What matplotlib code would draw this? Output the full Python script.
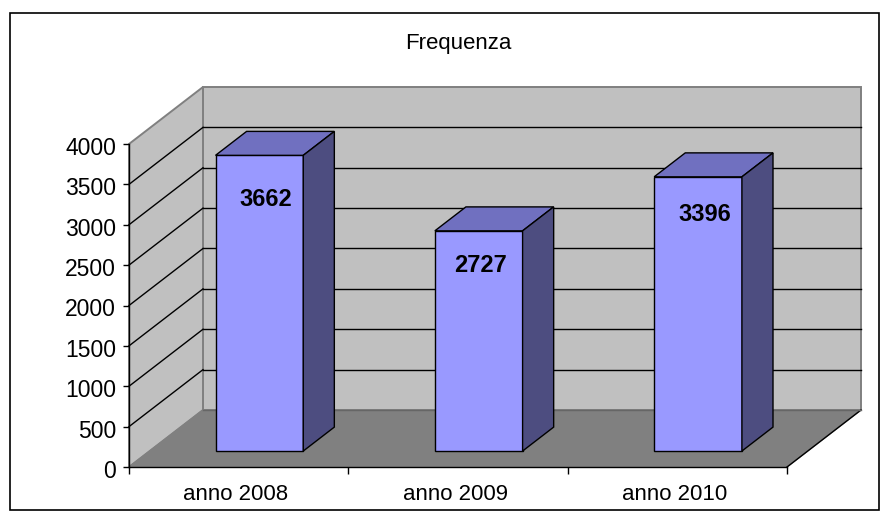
import matplotlib
matplotlib.use("Agg")
import matplotlib.pyplot as plt
from matplotlib.patches import Polygon, Rectangle
from matplotlib.transforms import ScaledTranslation

plt.rcParams['font.family'] = ['Liberation Sans', 'DejaVu Sans']

# dati del grafico
categorie = ["anno 2008", "anno 2009", "anno 2010"]
frequenza = [3662, 2727, 3396]
tacche_y = [0, 500, 1000, 1500, 2000, 2500, 3000, 3500, 4000]

W, H = 895, 520
X0, X1 = 129, 787      # piano frontale in pixel
Y0, Y1 = 467, 144
DX, DY = 74, 57        # profondita' in pixel

fig = plt.figure(figsize=(W / 100, H / 100), dpi=100)
fig.patch.set_facecolor("white")

# cornice esterna
fig.add_artist(Rectangle((10 / W, 1 - 510 / H), 869 / W, 497 / H, transform=fig.transFigure,
                         fc="white", ec="black", lw=1.2, zorder=-1))

ax = fig.add_axes([X0 / W, 1 - Y0 / H, (X1 - X0) / W, (Y0 - Y1) / H])
ax.set_xlim(0, 3)
ax.set_ylim(0, 4000)
ax.patch.set_visible(False)
for s in ax.spines.values():
    s.set_visible(False)

dx = DX * 3 / (X1 - X0)
dy = DY * 4000 / (Y0 - Y1)


def prof(x, y, f):
    # punto (x, y) spostato alla profondita' f
    return (x + dx * f, y + dy * f)


def poly(punti, fc, ec="black", lw=1.0, z=1):
    ax.add_patch(Polygon(punti, closed=True, fc=fc, ec=ec, lw=lw, zorder=z, clip_on=False))


def linea(p, q, col="black", lw=1.0, z=2):
    ax.plot([p[0], q[0]], [p[1], q[1]], color=col, lw=lw, zorder=z, clip_on=False)


# pareti e pavimento
poly([prof(0, 0, 1), prof(3, 0, 1), prof(3, 4000, 1), prof(0, 4000, 1)], "#C0C0C0", ec="#808080", lw=1.4)
poly([prof(0, 0, 0), prof(0, 0, 1), prof(0, 4000, 1), prof(0, 4000, 0)], "#C0C0C0", ec="#808080", lw=1.4)
poly([prof(0, 0, 0), prof(3, 0, 0), prof(3, 0, 1), prof(0, 0, 1)], "#808080", ec="#808080", lw=1.0)

# griglia
for v in tacche_y[1:-1]:
    linea(prof(0, v, 0), prof(0, v, 1))
    linea(prof(0, v, 1), prof(3, v, 1))

# bordi del pavimento
linea(prof(3, 0, 0), prof(3, 0, 1))
linea(prof(0, 0, 1), prof(3, 0, 1), col="#666666")

# barre
f1, f2 = 0.28, 0.70
larg = 0.4
spost_etichette = [(6, -44), (2, -35), (7, -38)]   # pixel rispetto allo spigolo alto
for i, v in enumerate(frequenza):
    a, b = i + 0.5 - larg / 2, i + 0.5 + larg / 2
    poly([prof(a, 0, f1), prof(b, 0, f1), prof(b, v, f1), prof(a, v, f1)], "#9999FF", z=3)
    poly([prof(a, v, f1), prof(b, v, f1), prof(b, v, f2), prof(a, v, f2)], "#7070C0", z=3)
    poly([prof(b, 0, f1), prof(b, 0, f2), prof(b, v, f2), prof(b, v, f1)], "#4D4D80", z=3)
    ox, oy = spost_etichette[i]
    ax.annotate(str(v), prof(i + 0.5, v, f1), xytext=(ox * 0.72, oy * 0.72), textcoords="offset points",
                ha="center", va="center", fontsize=17, fontweight="bold", zorder=4)

# assi
ax.set_xticks([0, 1, 2, 3])
ax.set_xticklabels([])
ax.set_yticks(tacche_y)
ax.tick_params(axis="y", length=4.3, width=1.0, labelsize=16.5, pad=5)
ax.tick_params(axis="x", length=5, width=1.0)
giu = ScaledTranslation(0, -2 / 100, fig.dpi_scale_trans)
for t in ax.get_yticklabels():
    t.set_transform(t.get_transform() + giu)
linea((0, 0), (0, 4000), z=3)
linea((0, 0), (3, 0), z=3)
for i, c in enumerate(categorie):
    ax.annotate(c, (i + 0.5, 0), xytext=(-2, -19.5), textcoords="offset points",
                ha="center", va="center", fontsize=16)

fig.text(458.5 / W, 1 - 43 / H, "Frequenza", ha="center", va="center", fontsize=16)

fig.savefig("out.png", dpi=100)
